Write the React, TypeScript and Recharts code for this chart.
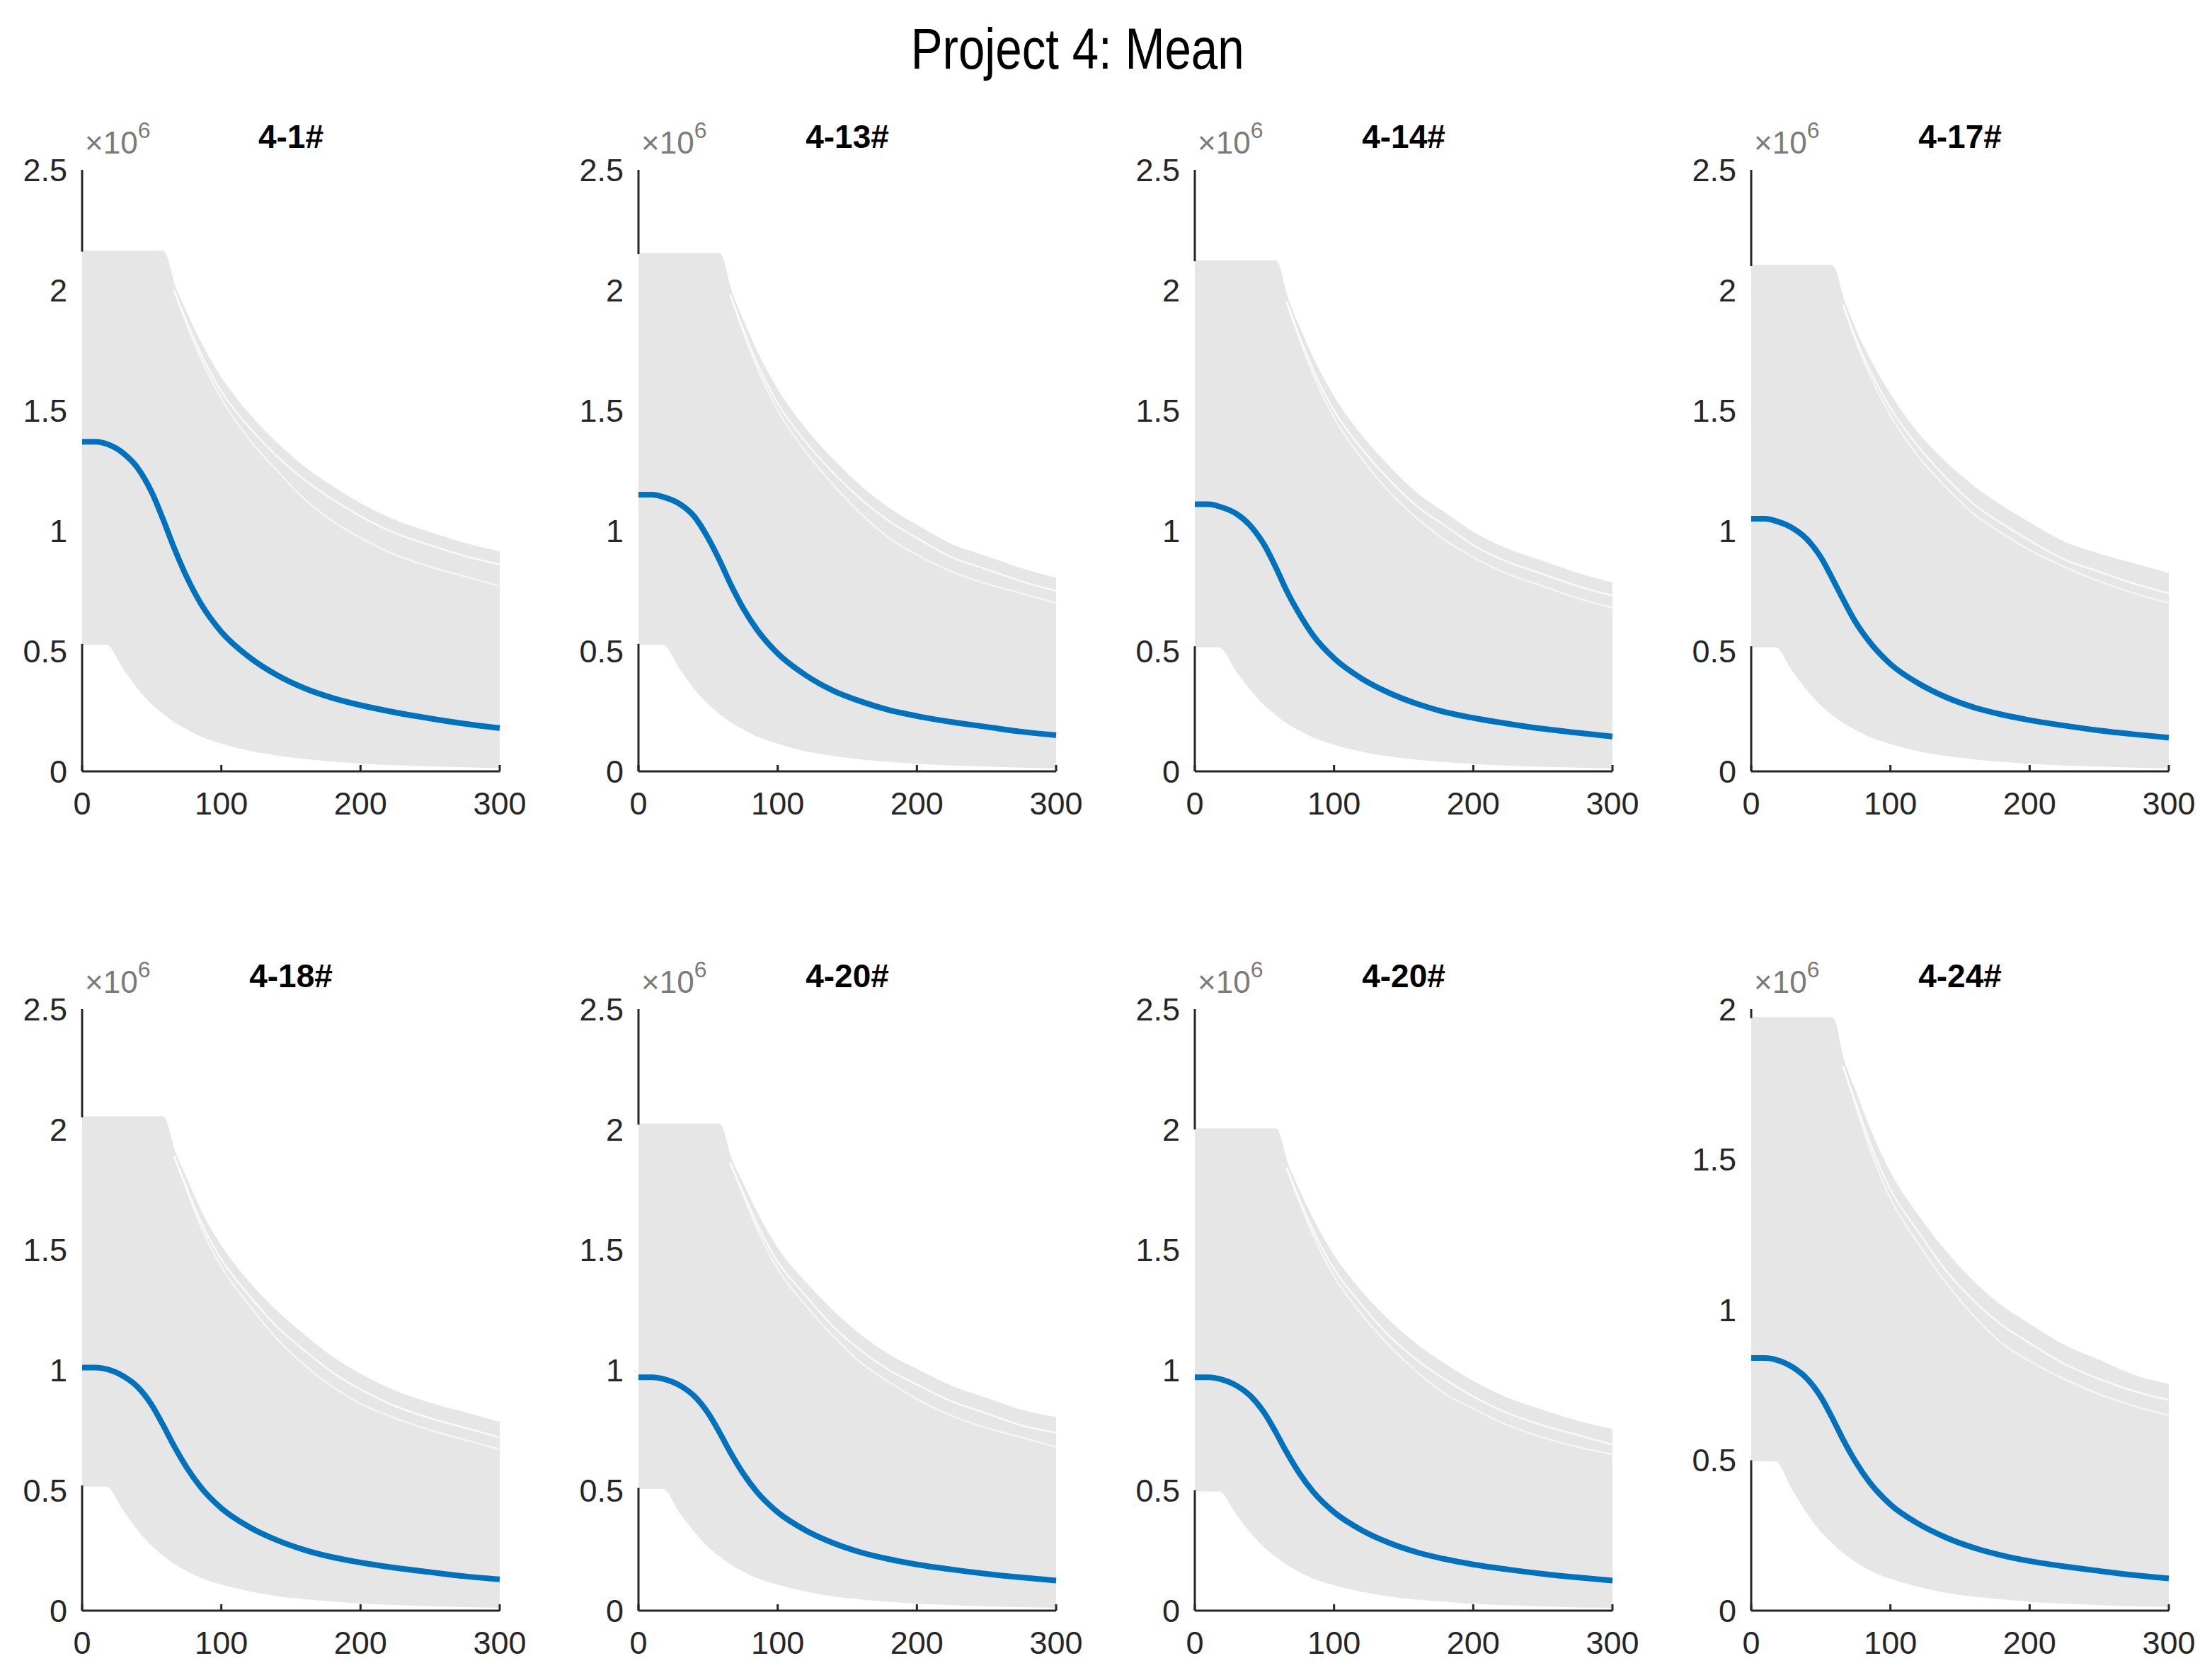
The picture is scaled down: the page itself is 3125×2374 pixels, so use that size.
import { ComposedChart, Area, Line, XAxis, YAxis, ReferenceLine } from 'recharts'

// sample positions along the horizontal axis
const xs = [0, 10, 18, 30, 40, 50, 58, 66, 75, 85, 100, 120, 140, 160, 180, 200, 225, 250, 275, 300]
// the light streaks in the sparse upper part branch off the envelope at x = 66
const streakXs = [66, 75, 85, 100, 120, 140, 160, 180, 200, 225, 250, 275, 300]

const titles = ['4-1#', '4-13#', '4-14#', '4-17#', '4-18#', '4-20#', '4-20#', '4-24#']

// values in units of 1e6
const upper1 = [2.16, 2.16, 2.16, 2.16, 2.16, 2.16, 2.16, 2.02, 1.9, 1.78, 1.63, 1.48, 1.36, 1.26, 1.18, 1.11, 1.04, 0.99, 0.945, 0.91]
const upper2 = [2.15, 2.15, 2.15, 2.15, 2.15, 2.15, 2.15, 2.0, 1.87, 1.74, 1.58, 1.42, 1.29, 1.18, 1.09, 1.02, 0.94, 0.89, 0.84, 0.8]
const upper3 = [2.12, 2.12, 2.12, 2.12, 2.12, 2.12, 2.12, 1.97, 1.84, 1.71, 1.55, 1.39, 1.26, 1.15, 1.07, 0.99, 0.92, 0.87, 0.82, 0.78]
const upper4 = [2.1, 2.1, 2.1, 2.1, 2.1, 2.1, 2.1, 1.96, 1.83, 1.71, 1.56, 1.4, 1.28, 1.18, 1.1, 1.03, 0.95, 0.9, 0.86, 0.82]
const upper5 = [2.05, 2.05, 2.05, 2.05, 2.05, 2.05, 2.05, 1.91, 1.79, 1.66, 1.51, 1.36, 1.24, 1.14, 1.05, 0.98, 0.91, 0.86, 0.82, 0.78]
const upper6 = [2.02, 2.02, 2.02, 2.02, 2.02, 2.02, 2.02, 1.88, 1.77, 1.65, 1.5, 1.36, 1.24, 1.14, 1.06, 1.0, 0.93, 0.88, 0.83, 0.8]
const upper7 = [2.0, 2.0, 2.0, 2.0, 2.0, 2.0, 2.0, 1.86, 1.74, 1.62, 1.47, 1.32, 1.2, 1.1, 1.02, 0.95, 0.88, 0.83, 0.785, 0.75]
const upper8 = [1.97, 1.97, 1.97, 1.97, 1.97, 1.97, 1.97, 1.83, 1.72, 1.6, 1.45, 1.31, 1.19, 1.09, 1.01, 0.95, 0.88, 0.83, 0.78, 0.75]

const lower1 = [0.53, 0.53, 0.53, 0.43, 0.35, 0.285, 0.245, 0.21, 0.18, 0.15, 0.12, 0.09, 0.07, 0.056, 0.045, 0.037, 0.03, 0.025, 0.021, 0.018]
const lower2 = [0.53, 0.53, 0.53, 0.43, 0.35, 0.285, 0.245, 0.21, 0.18, 0.15, 0.12, 0.088, 0.068, 0.054, 0.044, 0.036, 0.029, 0.024, 0.02, 0.017]
const lower3 = [0.52, 0.52, 0.52, 0.42, 0.345, 0.28, 0.24, 0.205, 0.175, 0.145, 0.115, 0.086, 0.066, 0.053, 0.043, 0.035, 0.028, 0.023, 0.02, 0.017]
const lower4 = [0.52, 0.52, 0.52, 0.42, 0.345, 0.28, 0.24, 0.207, 0.177, 0.148, 0.118, 0.088, 0.068, 0.054, 0.044, 0.036, 0.029, 0.024, 0.02, 0.017]
const lower5 = [0.52, 0.52, 0.52, 0.42, 0.34, 0.275, 0.235, 0.2, 0.17, 0.142, 0.113, 0.085, 0.065, 0.052, 0.042, 0.034, 0.028, 0.023, 0.019, 0.016]
const lower6 = [0.51, 0.51, 0.51, 0.41, 0.335, 0.27, 0.232, 0.198, 0.168, 0.14, 0.112, 0.084, 0.064, 0.051, 0.041, 0.034, 0.027, 0.022, 0.019, 0.016]
const lower7 = [0.5, 0.5, 0.5, 0.405, 0.33, 0.268, 0.23, 0.196, 0.166, 0.138, 0.11, 0.083, 0.063, 0.05, 0.041, 0.033, 0.027, 0.022, 0.018, 0.016]
const lower8 = [0.5, 0.5, 0.5, 0.405, 0.33, 0.268, 0.23, 0.196, 0.166, 0.138, 0.11, 0.083, 0.063, 0.05, 0.041, 0.033, 0.027, 0.022, 0.018, 0.016]

const mean1 = [1.37, 1.37, 1.36, 1.32, 1.26, 1.16, 1.05, 0.93, 0.81, 0.7, 0.58, 0.475, 0.4, 0.345, 0.305, 0.275, 0.245, 0.22, 0.198, 0.18]
const mean2 = [1.15, 1.15, 1.14, 1.11, 1.06, 0.97, 0.88, 0.78, 0.68, 0.59, 0.49, 0.4, 0.335, 0.29, 0.255, 0.23, 0.205, 0.185, 0.165, 0.15]
const mean3 = [1.11, 1.11, 1.1, 1.07, 1.02, 0.94, 0.85, 0.75, 0.655, 0.565, 0.47, 0.385, 0.325, 0.28, 0.246, 0.222, 0.198, 0.177, 0.16, 0.145]
const mean4 = [1.05, 1.05, 1.04, 1.01, 0.965, 0.89, 0.805, 0.715, 0.62, 0.538, 0.446, 0.366, 0.308, 0.266, 0.236, 0.213, 0.19, 0.17, 0.154, 0.14]
const mean5 = [1.01, 1.01, 1.003, 0.973, 0.929, 0.855, 0.773, 0.685, 0.596, 0.515, 0.426, 0.348, 0.293, 0.252, 0.222, 0.2, 0.178, 0.16, 0.143, 0.13]
const mean6 = [0.97, 0.97, 0.963, 0.935, 0.892, 0.821, 0.743, 0.658, 0.572, 0.494, 0.409, 0.334, 0.281, 0.242, 0.214, 0.192, 0.171, 0.153, 0.138, 0.125]
const mean7 = [0.97, 0.97, 0.963, 0.935, 0.892, 0.821, 0.743, 0.658, 0.572, 0.494, 0.409, 0.334, 0.281, 0.242, 0.214, 0.192, 0.171, 0.153, 0.138, 0.125]
const mean8 = [0.84, 0.84, 0.834, 0.809, 0.772, 0.711, 0.643, 0.569, 0.495, 0.427, 0.353, 0.289, 0.243, 0.209, 0.184, 0.165, 0.147, 0.132, 0.118, 0.107]

const streakA1 = [2.0, 1.87, 1.74, 1.58, 1.43, 1.31, 1.21, 1.13, 1.06, 0.99, 0.94, 0.895, 0.86]
const streakA2 = [1.98, 1.84, 1.7, 1.53, 1.37, 1.24, 1.13, 1.04, 0.97, 0.89, 0.84, 0.79, 0.75]
const streakA3 = [1.95, 1.81, 1.67, 1.5, 1.34, 1.21, 1.1, 1.02, 0.94, 0.87, 0.82, 0.77, 0.73]
const streakA4 = [1.94, 1.8, 1.67, 1.51, 1.35, 1.22, 1.11, 1.03, 0.96, 0.88, 0.83, 0.78, 0.74]
const streakA5 = [1.89, 1.76, 1.62, 1.46, 1.31, 1.18, 1.08, 0.99, 0.92, 0.85, 0.8, 0.76, 0.72]
const streakA6 = [1.86, 1.74, 1.61, 1.45, 1.31, 1.18, 1.08, 1.0, 0.94, 0.87, 0.82, 0.77, 0.74]
const streakA7 = [1.84, 1.71, 1.58, 1.42, 1.27, 1.14, 1.04, 0.96, 0.89, 0.82, 0.77, 0.73, 0.69]
const streakA8 = [1.81, 1.69, 1.56, 1.4, 1.26, 1.13, 1.03, 0.95, 0.89, 0.82, 0.77, 0.73, 0.7]

const streakB1 = [2.0, 1.86, 1.72, 1.55, 1.38, 1.25, 1.13, 1.04, 0.97, 0.9, 0.85, 0.81, 0.77]
const streakB2 = [1.98, 1.83, 1.68, 1.5, 1.33, 1.19, 1.07, 0.97, 0.9, 0.83, 0.78, 0.74, 0.7]
const streakB3 = [1.95, 1.8, 1.65, 1.47, 1.3, 1.16, 1.05, 0.96, 0.89, 0.82, 0.77, 0.72, 0.68]
const streakB4 = [1.94, 1.79, 1.65, 1.48, 1.31, 1.18, 1.07, 0.99, 0.92, 0.85, 0.79, 0.74, 0.7]
const streakB5 = [1.89, 1.75, 1.6, 1.43, 1.27, 1.13, 1.02, 0.93, 0.86, 0.8, 0.75, 0.71, 0.67]
const streakB6 = [1.86, 1.73, 1.59, 1.42, 1.27, 1.14, 1.03, 0.95, 0.88, 0.81, 0.76, 0.72, 0.68]
const streakB7 = [1.84, 1.7, 1.56, 1.39, 1.23, 1.1, 0.99, 0.9, 0.84, 0.77, 0.72, 0.68, 0.65]
const streakB8 = [1.81, 1.68, 1.54, 1.37, 1.22, 1.09, 0.98, 0.89, 0.83, 0.77, 0.72, 0.68, 0.65]

const uppers = [upper1, upper2, upper3, upper4, upper5, upper6, upper7, upper8]
const lowers = [lower1, lower2, lower3, lower4, lower5, lower6, lower7, lower8]
const means = [mean1, mean2, mean3, mean4, mean5, mean6, mean7, mean8]
const streaksA = [streakA1, streakA2, streakA3, streakA4, streakA5, streakA6, streakA7, streakA8]
const streaksB = [streakB1, streakB2, streakB3, streakB4, streakB5, streakB6, streakB7, streakB8]

const yTicksFull = [0, 0.5, 1, 1.5, 2, 2.5]
const yTicksShort = [0, 0.5, 1, 1.5, 2]
const xTicks = [0, 100, 200, 300]

const colLeft = [116, 902, 1688, 2474]
const rowTop = [240, 1426]
const PW = 590
const PH = 850
const PADL = 130
const PADT = 140
const PADR = 60
const PADB = 110

const FONT = '"Liberation Sans", Arial, sans-serif'
const AXIS = '#262626'
const BAND = '#e6e6e6'

function Panel({ idx }: { idx: number }) {
  const left = colLeft[idx % 4]
  const top = rowTop[Math.floor(idx / 4)]
  const yMax = idx === 7 ? 2 : 2.5
  const data = xs.map((x, i) => {
    const s = streakXs.indexOf(x)
    return {
      x,
      lo: lowers[idx][i],
      hi: uppers[idx][i],
      mean: means[idx][i],
      sa: s >= 0 ? streaksA[idx][s] : null,
      sb: s >= 0 ? streaksB[idx][s] : null,
    }
  })
  const tickStyle = { fontSize: 45, fill: AXIS, fontFamily: FONT }
  const cap = uppers[idx][0]
  const floor = lowers[idx][0]

  return (
    <>
      <div style={{ position: 'absolute', left: left - PADL, top: top - PADT }}>
        <ComposedChart
          width={PADL + PW + PADR}
          height={PADT + PH + PADB}
          data={data}
          margin={{ top: PADT, right: PADR, bottom: 0, left: 0 }}
        >
          <XAxis
            dataKey="x"
            type="number"
            domain={[0, 300]}
            ticks={xTicks}
            height={PADB}
            tick={tickStyle}
            tickSize={-9}
            tickMargin={38}
            axisLine={{ stroke: AXIS, strokeWidth: 3 }}
            tickLine={{ stroke: AXIS, strokeWidth: 3 }}
          />
          <YAxis
            type="number"
            domain={[0, yMax]}
            ticks={idx === 7 ? yTicksShort : yTicksFull}
            width={PADL}
            tick={tickStyle}
            tickSize={-9}
            tickMargin={30}
            axisLine={false}
            tickLine={false}
            tickFormatter={(v: number) => String(v)}
          />
          <Area
            type="monotone"
            dataKey={(d: { lo: number; hi: number }) => [d.lo, d.hi]}
            fill={BAND}
            fillOpacity={1}
            stroke={BAND}
            strokeWidth={3}
            isAnimationActive={false}
          />
          {/* the grey curves hide the y axis between the band's edges */}
          <ReferenceLine segment={[{ x: 0, y: cap }, { x: 0, y: yMax }]} stroke={AXIS} strokeWidth={3} />
          <ReferenceLine segment={[{ x: 0, y: 0 }, { x: 0, y: floor }]} stroke={AXIS} strokeWidth={3} />
          <Line type="monotone" dataKey="sa" stroke="#ffffff" strokeOpacity={0.75} strokeWidth={2.5} dot={false} isAnimationActive={false} />
          <Line type="monotone" dataKey="sb" stroke="#ffffff" strokeOpacity={0.6} strokeWidth={2.5} dot={false} isAnimationActive={false} />
          <Line
            type="monotone"
            dataKey="mean"
            stroke="#0072BD"
            strokeWidth={8}
            dot={false}
            isAnimationActive={false}
          />
        </ComposedChart>
      </div>
      <div
        style={{
          position: 'absolute',
          left: left,
          top: top - 70,
          width: PW,
          textAlign: 'center',
          fontFamily: FONT,
          fontWeight: 700,
          fontSize: 46,
          lineHeight: '46px',
          color: '#000',
        }}
      >
        {titles[idx]}
      </div>
      <div
        style={{
          position: 'absolute',
          left: left + 4,
          top: top - 60,
          fontFamily: FONT,
          fontSize: 44,
          lineHeight: '44px',
          color: '#7a7a7a',
          whiteSpace: 'nowrap',
        }}
      >
        ×10<sup style={{ fontSize: 32, verticalAlign: 'top', position: 'relative', top: -18 }}>6</sup>
      </div>
    </>
  )
}

export default function App() {
  return (
    <div style={{ position: 'absolute', left: 0, top: 0, width: 3125, height: 2374, background: '#fff' }}>
      <div
        style={{
          position: 'absolute',
          left: 0,
          top: 28,
          width: 3044,
          textAlign: 'center',
          fontFamily: FONT,
          fontSize: 82,
          lineHeight: '82px',
          color: '#000',
        }}
      >
        <span style={{ display: 'inline-block', transform: 'scaleX(0.82)' }}>Project 4: Mean</span>
      </div>
      {titles.map((_, i) => (
        <Panel key={i} idx={i} />
      ))}
    </div>
  )
}
